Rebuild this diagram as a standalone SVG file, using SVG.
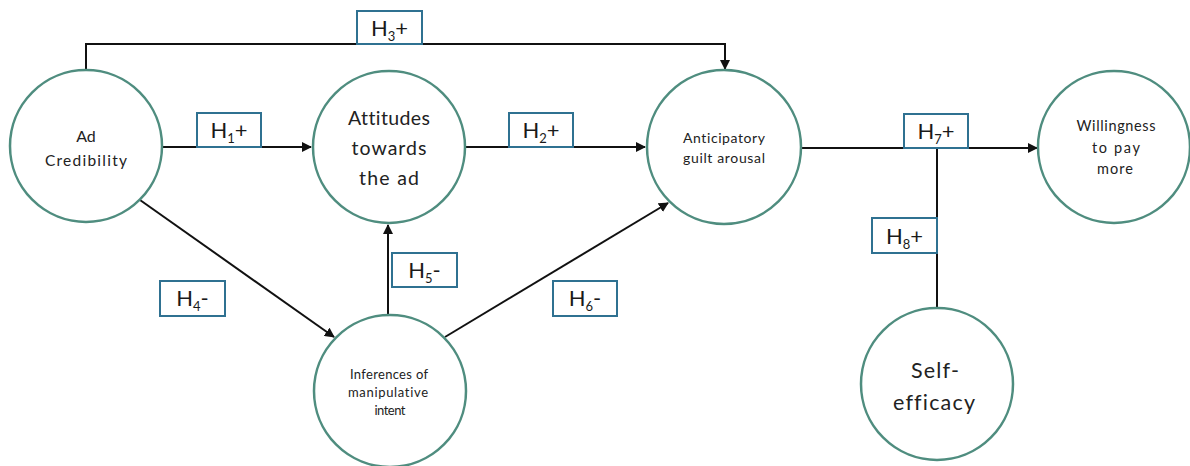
<svg xmlns="http://www.w3.org/2000/svg" width="1190" height="466" viewBox="0 0 1190 466">
  <style>
    .node { fill: #ffffff; stroke: #4f8d7f; stroke-width: 2.5; }
    .edge { fill: none; stroke: #111111; stroke-width: 2; }
    .lbl rect { fill: #ffffff; stroke: #2f7191; stroke-width: 2; }
    .lbl text { font-family: Lato, "Liberation Sans", sans-serif; font-size: 22px; fill: #1a1a1a; text-anchor: middle; }
    .sub { font-size: 13px; }
    .ntext { font-family: Lato, "Liberation Sans", sans-serif; fill: #222222; text-anchor: middle; font-variant-ligatures: none; }
  </style>
  <defs>
    <marker id="arrow" viewBox="0 0 10 10" refX="9" refY="5" markerWidth="5" markerHeight="5" orient="auto" markerUnits="strokeWidth">
      <path d="M0,0 L10,5 L0,10 z" fill="#111111"/>
    </marker>
  </defs>

  <rect width="1190" height="466" fill="#ffffff"/>

  <!-- connectors -->
  <g id="connectors">
    <path class="edge" d="M86,71 V44 H725 V69" marker-end="url(#arrow)"/>
    <path class="edge" d="M162,147 H311" marker-end="url(#arrow)"/>
    <path class="edge" d="M465,147 H645" marker-end="url(#arrow)"/>
    <path class="edge" d="M801,148 H1037" marker-end="url(#arrow)"/>
    <path class="edge" d="M937,148 V308"/>
    <path class="edge" d="M140,200 L334,337" marker-end="url(#arrow)"/>
    <path class="edge" d="M388,315 V225" marker-end="url(#arrow)"/>
    <path class="edge" d="M445,337 L668,203" marker-end="url(#arrow)"/>
  </g>

  <!-- hypothesis labels -->
  <g id="label-h3" class="lbl">
    <rect x="357" y="11" width="65" height="33"/>
    <text x="389.5" y="36">H<tspan class="sub" dy="5">3</tspan><tspan dy="-5">+</tspan></text>
  </g>
  <g id="label-h1" class="lbl">
    <rect x="197" y="113" width="64" height="34"/>
    <text x="229" y="138">H<tspan class="sub" dy="5">1</tspan><tspan dy="-5">+</tspan></text>
  </g>
  <g id="label-h2" class="lbl">
    <rect x="509" y="113" width="64" height="34"/>
    <text x="541" y="138">H<tspan class="sub" dy="5">2</tspan><tspan dy="-5">+</tspan></text>
  </g>
  <g id="label-h7" class="lbl">
    <rect x="904" y="114" width="64" height="34"/>
    <text x="936" y="139">H<tspan class="sub" dy="5">7</tspan><tspan dy="-5">+</tspan></text>
  </g>
  <g id="label-h8" class="lbl">
    <rect x="872" y="218" width="65" height="35"/>
    <text x="904.5" y="244">H<tspan class="sub" dy="5">8</tspan><tspan dy="-5">+</tspan></text>
  </g>
  <g id="label-h4" class="lbl">
    <rect x="160" y="281" width="65" height="35"/>
    <text x="192.5" y="306">H<tspan class="sub" dy="5">4</tspan><tspan dy="-5">-</tspan></text>
  </g>
  <g id="label-h5" class="lbl">
    <rect x="392" y="253" width="65" height="34"/>
    <text x="424.5" y="278">H<tspan class="sub" dy="5">5</tspan><tspan dy="-5">-</tspan></text>
  </g>
  <g id="label-h6" class="lbl">
    <rect x="553" y="281" width="64" height="35"/>
    <text x="585" y="306">H<tspan class="sub" dy="5">6</tspan><tspan dy="-5">-</tspan></text>
  </g>

  <!-- constructs -->
  <g id="node-ad-credibility">
    <circle class="node" cx="86" cy="146" r="76"/>
    <text class="ntext" x="86" y="142" font-size="16">Ad</text>
    <text class="ntext" x="86" y="166" font-size="15.5" textLength="82" lengthAdjust="spacing">Credibility</text>
  </g>
  <g id="node-attitudes">
    <circle class="node" cx="389" cy="147" r="76"/>
    <text class="ntext" x="389" y="125" font-size="19.5" textLength="82" lengthAdjust="spacing">Attitudes</text>
    <text class="ntext" x="389" y="155" font-size="19.5" textLength="75" lengthAdjust="spacing">towards</text>
    <text class="ntext" x="389" y="185" font-size="19.5" textLength="60" lengthAdjust="spacing">the ad</text>
  </g>
  <g id="node-guilt">
    <circle class="node" cx="724" cy="147" r="77"/>
    <text class="ntext" x="724" y="143" font-size="14" textLength="82" lengthAdjust="spacing">Anticipatory</text>
    <text class="ntext" x="724" y="163" font-size="14" textLength="82" lengthAdjust="spacing">guilt arousal</text>
  </g>
  <g id="node-willingness">
    <circle class="node" cx="1114" cy="147" r="76"/>
    <text class="ntext" x="1116" y="131" font-size="14.5" textLength="79" lengthAdjust="spacing">Willingness</text>
    <text class="ntext" x="1116" y="153" font-size="14.5" textLength="48" lengthAdjust="spacing">to pay</text>
    <text class="ntext" x="1115" y="174" font-size="14.5" textLength="36" lengthAdjust="spacing">more</text>
  </g>
  <g id="node-inferences">
    <circle class="node" cx="390" cy="391" r="76"/>
    <text class="ntext" x="389" y="379" font-size="13" textLength="78" lengthAdjust="spacing">Inferences of</text>
    <text class="ntext" x="388" y="397" font-size="13" textLength="80" lengthAdjust="spacing">manipulative</text>
    <text class="ntext" x="390" y="415" font-size="13" textLength="31" lengthAdjust="spacing">intent</text>
  </g>
  <g id="node-self-efficacy">
    <circle class="node" cx="937" cy="384" r="76"/>
    <text class="ntext" x="935" y="378" font-size="21.5" textLength="48" lengthAdjust="spacing">Self-</text>
    <text class="ntext" x="934" y="410" font-size="21.5" textLength="82" lengthAdjust="spacing">efficacy</text>
  </g>
</svg>
